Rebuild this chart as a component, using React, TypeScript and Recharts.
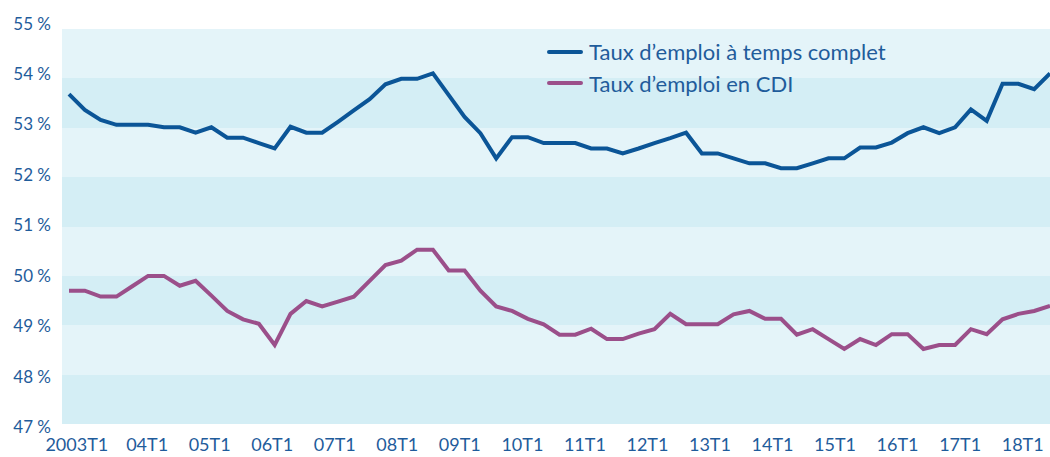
import {
  LineChart,
  Line,
  XAxis,
  YAxis,
  CartesianGrid,
  Legend,
} from "recharts";

// quarters, 2002T4 .. 2018T2
const quarters: string[] = [];
for (let y = 2002; y <= 2018; y++) {
  for (let q = 1; q <= 4; q++) {
    const key = `${y}T${q}`;
    if (key < "2002T4" || key > "2018T2") continue;
    quarters.push(key);
  }
}

const tempsComplet = [
  53.68, 53.36, 53.16, 53.06, 53.06, 53.06, 53.01, 53.01, 52.9, 53.01,
  52.8, 52.8, 52.69, 52.58, 53.02, 52.9, 52.9, 53.12, 53.35, 53.58,
  53.88, 53.99, 53.99, 54.1, 53.66, 53.22, 52.89, 52.38, 52.81, 52.81,
  52.69, 52.69, 52.69, 52.58, 52.58, 52.48, 52.58, 52.69, 52.79, 52.9,
  52.48, 52.48, 52.38, 52.28, 52.28, 52.18, 52.18, 52.28, 52.38, 52.38,
  52.6, 52.6, 52.7, 52.89, 53.01, 52.89, 53.01, 53.37, 53.14, 53.89,
  53.89, 53.78, 54.1,
];

const cdi = [
  49.7, 49.7, 49.58, 49.58, 49.79, 50.0, 50.0, 49.8, 49.9, 49.6,
  49.29, 49.12, 49.03, 48.6, 49.23, 49.49, 49.38, 49.48, 49.58, 49.9,
  50.22, 50.31, 50.53, 50.53, 50.11, 50.11, 49.7, 49.38, 49.29, 49.13,
  49.02, 48.81, 48.81, 48.93, 48.72, 48.72, 48.83, 48.92, 49.23, 49.02,
  49.02, 49.02, 49.22, 49.29, 49.13, 49.13, 48.81, 48.92, 48.72, 48.52,
  48.72, 48.6, 48.82, 48.82, 48.52, 48.6, 48.6, 48.92, 48.82, 49.12,
  49.23, 49.29, 49.39,
];

const seriesNames = ["Taux d’emploi à temps complet", "Taux d’emploi en CDI"];
const yTicks = [47, 48, 49, 50, 51, 52, 53, 54, 55];
const xTicks = quarters.filter((q) => q.endsWith("T1"));

const BLUE = "#0b5597";
const PURPLE = "#9b4f8a";
const TEXT = "#1f5c9b";
const BAND_LIGHT = "#e4f4f9";
const BAND_DARK = "#d4eef5";
const FONT = "Lato, 'Open Sans', sans-serif";

const data = quarters.map((q, i) => ({
  q,
  complet: tempsComplet[i],
  cdi: cdi[i],
}));

const formatQuarter = (q: string) => (q === "2003T1" ? q : q.slice(2));

// labels in the original sit a touch tighter than the data points
const XTick = ({ x, y, payload, index }: any) => (
  <text
    x={x + (index === 0 ? -8 : -1 - (index - 1) * 0.75)}
    y={y}
    dy={19}
    textAnchor="middle"
    fill={TEXT}
    fontSize={18}
    fontFamily={FONT}
  >
    {formatQuarter(payload.value)}
  </text>
);

// y labels in the original are spread slightly wider than the gridlines
const YTick = ({ x, y, payload }: any) => (
  <text
    x={x}
    y={y}
    dy={6 + (50 - payload.value) * 1.1}
    textAnchor="end"
    fill={TEXT}
    fontSize={17}
    fontFamily={FONT}
  >
    {`${payload.value} %`}
  </text>
);

const LegendContent = ({ payload }: any) => {
  const items = [...(payload || [])].sort(
    (a: any, b: any) => seriesNames.indexOf(a.value) - seriesNames.indexOf(b.value)
  );
  return (
    <div style={{ fontFamily: FONT, fontSize: 22, color: TEXT }}>
      {items.map((item: any) => (
        <div
          key={item.value}
          style={{ display: "flex", alignItems: "center", height: 31.6 }}
        >
          <span
            style={{
              display: "inline-block",
              width: 36,
              height: 4,
              borderRadius: 2,
              background: item.color,
              marginRight: 6,
            }}
          />
          <span>{item.value}</span>
        </div>
      ))}
    </div>
  );
};

export default function App() {
  return (
    <div style={{ position: "absolute", left: 0, top: 0, background: "#fff" }}>
      <LineChart
        width={1050}
        height={457}
        data={data}
        margin={{ top: 29, right: 0, bottom: 0, left: 0 }}
      >
        <CartesianGrid
          vertical={false}
          stroke="none"
          horizontalFill={[BAND_LIGHT, BAND_DARK]}
          fillOpacity={1}
        />
        <XAxis
          dataKey="q"
          ticks={xTicks}
          interval={0}
          axisLine={false}
          tickLine={false}
          height={33}
          padding={{ left: 7, right: 0 }}
          tick={<XTick />}
        />
        <YAxis
          domain={[47, 55]}
          ticks={yTicks}
          width={62}
          axisLine={false}
          tickLine={false}
          tickMargin={5}
          tick={<YTick />}
        />
        <Legend
          layout="vertical"
          align="center"
          verticalAlign="middle"
          wrapperStyle={{ left: 547, top: 36, width: 400 }}
          content={<LegendContent />}
        />
        <Line
          dataKey="complet"
          name={seriesNames[0]}
          stroke={BLUE}
          strokeWidth={4}
          dot={false}
          isAnimationActive={false}
        />
        <Line
          dataKey="cdi"
          name={seriesNames[1]}
          stroke={PURPLE}
          strokeWidth={4}
          dot={false}
          isAnimationActive={false}
        />
      </LineChart>
    </div>
  );
}
